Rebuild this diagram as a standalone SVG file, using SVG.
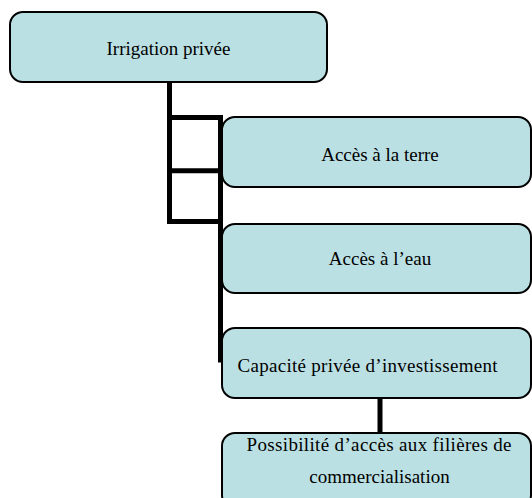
<svg xmlns="http://www.w3.org/2000/svg" width="532" height="498" viewBox="0 0 532 498">
<style>
.box{fill:#BBE0E3;stroke:#000;stroke-width:2}
.lbl{font-family:"Liberation Serif","Times New Roman",serif;font-size:19px;fill:#000;text-anchor:middle}
.conn{stroke:#000;stroke-width:5;fill:none;stroke-linecap:square}
</style>
<rect width="532" height="498" fill="#fff"/>
<g id="connectors">
<path class="conn" d="M169.5 84 V221.5 H220.5"/>
<path class="conn" d="M169.5 117.5 H220.5"/>
<path class="conn" d="M169.5 170.8 H220.5"/>
<path class="conn" d="M220.5 117.5 V360" stroke-linecap="butt"/>
<path class="conn" d="M380 399 V432" stroke-linecap="butt"/>
</g>
<g id="n-irrigation">
<rect class="box" x="10" y="12" width="317" height="70" rx="13"/>
<text class="lbl" x="168.5" y="55">Irrigation privée</text>
</g>
<g id="n-terre">
<rect class="box" x="222" y="117" width="309" height="70" rx="13"/>
<text class="lbl" x="380" y="161">Accès à la terre</text>
</g>
<g id="n-eau">
<rect class="box" x="222" y="224" width="309" height="69" rx="13"/>
<text class="lbl" x="380" y="265">Accès à l’eau</text>
</g>
<g id="n-capacite">
<rect class="box" x="222" y="328" width="309" height="70" rx="13"/>
<text class="lbl" x="367.5" y="372" textLength="260" lengthAdjust="spacing">Capacité privée d’investissement</text>
</g>
<g id="n-filieres">
<rect class="box" x="222" y="433" width="309" height="75" rx="13"/>
<text class="lbl" x="379" y="451" textLength="265" lengthAdjust="spacing">Possibilité d’accès aux filières de</text>
<text class="lbl" x="379.5" y="483">commercialisation</text>
</g>
</svg>
